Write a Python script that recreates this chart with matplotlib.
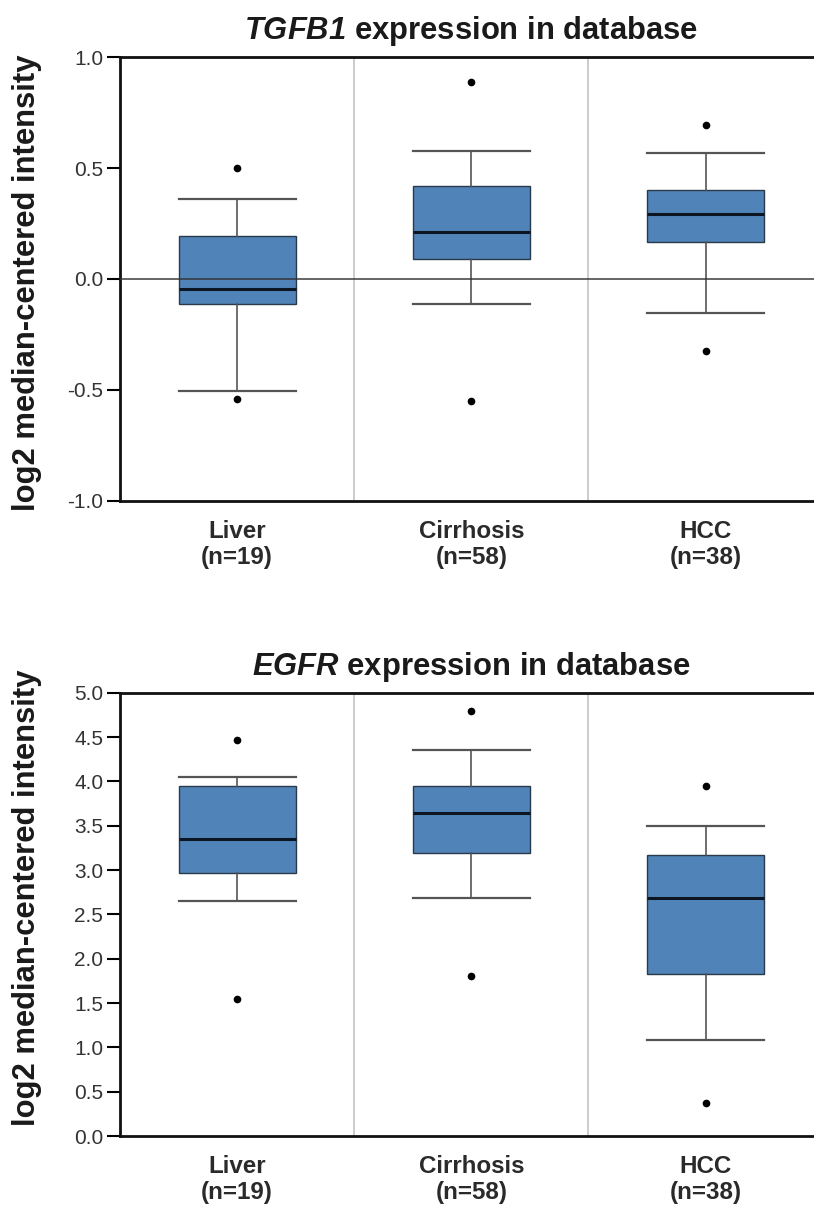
import matplotlib
matplotlib.use("Agg")
import matplotlib.pyplot as plt

plt.rcParams['font.family'] = ['Liberation Sans', 'DejaVu Sans']
plt.rcParams['mathtext.fontset'] = 'custom'
plt.rcParams['mathtext.rm'] = 'Liberation Sans:italic:bold'
plt.rcParams['mathtext.it'] = 'Liberation Sans:italic:bold'
plt.rcParams['mathtext.bf'] = 'Liberation Sans:bold'

categories = ["Liver\n(n=19)", "Cirrhosis\n(n=58)", "HCC\n(n=38)"]

# TGFB1 box stats
tgfb1_whislo = [-0.508, -0.114, -0.155]
tgfb1_q1 = [-0.113, 0.091, 0.165]
tgfb1_med = [-0.044, 0.212, 0.294]
tgfb1_q3 = [0.195, 0.417, 0.402]
tgfb1_whishi = [0.362, 0.578, 0.568]
tgfb1_fliers = [[0.50, -0.542], [0.886, -0.55], [0.694, -0.327]]

# EGFR box stats
egfr_whislo = [2.654, 2.69, 1.083]
egfr_q1 = [2.97, 3.19, 1.83]
egfr_med = [3.346, 3.64, 2.69]
egfr_q3 = [3.947, 3.947, 3.173]
egfr_whishi = [4.05, 4.35, 3.50]
egfr_fliers = [[4.466, 1.549], [4.797, 1.808], [3.947, 0.376]]

box_color = '#5083b8'


def make_stats(lo, q1, med, q3, hi, fl):
    stats = []
    for i in range(len(categories)):
        stats.append(dict(whislo=lo[i], q1=q1[i], med=med[i], q3=q3[i],
                          whishi=hi[i], fliers=fl[i]))
    return stats


def draw(ax, stats, title, ylim, yticks, zero_line, label_y):
    for x in [0.5, 1.5]:
        ax.axvline(x, color='#c8c8c8', lw=1.3, zorder=0)
    ax.bxp(stats, positions=range(len(categories)), widths=0.5,
           patch_artist=True, showfliers=True,
           boxprops=dict(facecolor=box_color, edgecolor='#2a3a4a', lw=1.0),
           medianprops=dict(color='#0b1622', lw=2.2),
           whiskerprops=dict(color='#555555', lw=1.2),
           capprops=dict(color='#555555', lw=1.6),
           capwidths=0.5,
           flierprops=dict(marker='o', markerfacecolor='black', markeredgecolor='black',
                           markersize=4.5))
    if zero_line:
        ax.axhline(0, color='#333333', lw=1.4, alpha=0.75, zorder=5)
    ax.set_xlim(-0.5, 2.463)
    ax.set_ylim(*ylim)
    ax.set_yticks(yticks)
    ax.set_yticklabels(["%.1f" % t for t in yticks])
    ax.set_xticks(range(len(categories)))
    ax.set_xticklabels(categories, fontsize=17.4, fontweight='bold', color='#2a2a2a',
                       linespacing=1.15)
    ax.tick_params(axis='x', length=0, pad=14)
    ax.tick_params(axis='y', length=9.5, width=1.5, pad=2.5, labelsize=15,
                   labelcolor='#333333', direction='out')
    ax.spines['right'].set_visible(False)
    for s in ['left', 'top', 'bottom']:
        ax.spines[s].set_linewidth(2.0)
        ax.spines[s].set_color('#111111')
    ax.set_title(title, fontsize=22.3, fontweight='bold', color='#1a1a1a', pad=13, x=0.506)
    ax.set_ylabel("log2 median-centered intensity", fontsize=22.3, fontweight='bold',
                  color='#1a1a1a')
    ax.yaxis.set_label_coords(-0.112, label_y)


fig = plt.figure(figsize=(8.14, 12.14), dpi=100)
ax1 = fig.add_axes([120 / 814, 1 - 500.5 / 1214, 694 / 814, 443.3 / 1214])
ax2 = fig.add_axes([120 / 814, 1 - 1136 / 1214, 694 / 814, 443.3 / 1214])

draw(ax1, make_stats(tgfb1_whislo, tgfb1_q1, tgfb1_med, tgfb1_q3, tgfb1_whishi, tgfb1_fliers),
     r'$\mathrm{TGFB1}$ expression in database', (-1.0, 1.0), [-1.0, -0.5, 0.0, 0.5, 1.0],
     True, 0.492)
draw(ax2, make_stats(egfr_whislo, egfr_q1, egfr_med, egfr_q3, egfr_whishi, egfr_fliers),
     r'$\mathrm{EGFR}$ expression in database', (0.0, 5.0),
     [0.0, 0.5, 1.0, 1.5, 2.0, 2.5, 3.0, 3.5, 4.0, 4.5, 5.0], False, 0.537)

fig.savefig("out.png", dpi=100)
